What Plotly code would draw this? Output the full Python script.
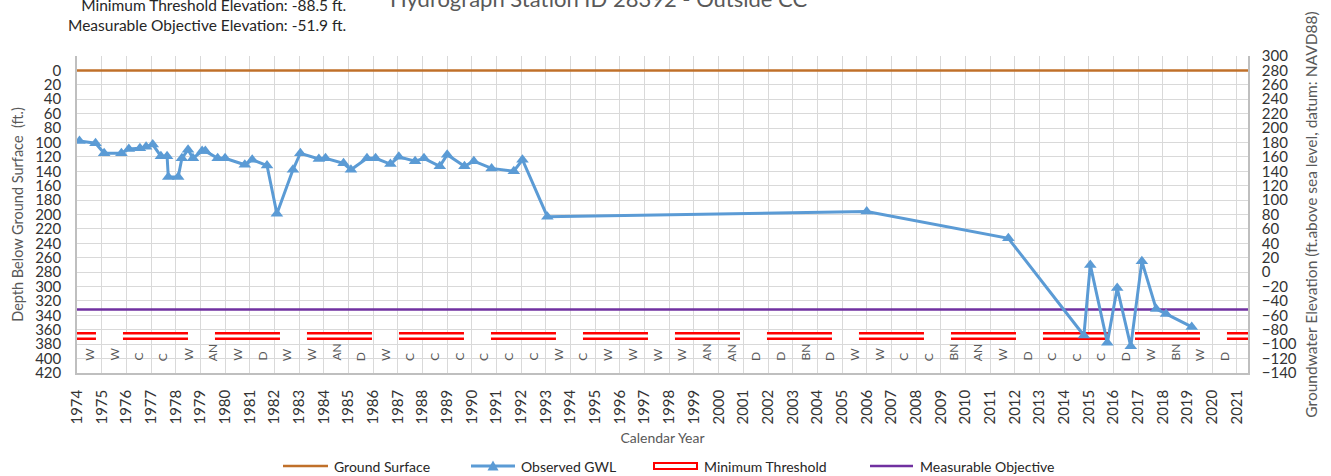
import plotly.graph_objects as go

# ---------------- data ----------------
ground_surface_elev = 280.0          # ft NAVD88
min_threshold_elev = -88.5           # ft NAVD88
measurable_objective_elev = -51.9    # ft NAVD88

years = list(range(1974, 2022))
year_labels = [str(y) for y in years]

water_year_types = ["W", "W", "C", "C", "W", "AN", "W", "D", "W", "W", "AN", "D",
                    "W", "C", "C", "C", "C", "C", "C", "W", "C", "W", "W", "W",
                    "W", "AN", "AN", "D", "D", "BN", "D", "W", "W", "C", "C", "BN",
                    "AN", "W", "D", "C", "C", "C", "D", "W", "BN", "W", "D"]

gwl_date = [1974.1, 1974.75, 1975.1, 1975.8, 1976.1, 1976.55, 1976.8, 1977.07,
            1977.4, 1977.65, 1977.7, 1978.1, 1978.25, 1978.5, 1978.7, 1979.07,
            1979.2, 1979.7, 1980.0, 1980.8, 1981.1, 1981.7, 1982.1, 1982.75,
            1983.05, 1983.8, 1984.07, 1984.8, 1985.1, 1985.75, 1986.1, 1986.7,
            1987.04, 1987.7, 1988.06, 1988.7, 1989.0, 1989.7, 1990.08, 1990.8,
            1991.7, 1992.05, 1993.06, 2006.0, 2011.74, 2014.8, 2015.06, 2015.75,
            2016.15, 2016.7, 2017.15, 2017.73, 2018.13, 2019.17]
gwl_depth = [98, 101, 115, 115, 109, 108, 106, 103, 119, 119, 148, 148, 122, 110,
             122, 112, 112, 122, 122, 131, 124, 132, 199, 138, 115, 123, 122, 129,
             138, 122, 122, 130, 120, 126, 122, 133, 117, 133, 126, 136, 140, 124,
             203, 196, 233, 368, 270, 378, 302, 383, 265, 331, 338, 356]

legend_names = ["Ground Surface", "Observed GWL", "Minimum Threshold",
                "Measurable Objective"]

x_start, x_end = 1974.0, 2021.45
line_start, line_end = 1972.135, 2022.5

depth_ticks = list(range(-20, 421, 20))
elev_ticks = list(range(-140, 301, 20))

# ---------------- figure ----------------
FONT = "Lato"
GRID = "#D9D9D9"
AXIS = "#BFBFBF"
TXT = "#595959"
C_GS = "#C0702A"
C_GWL = "#5B9BD5"
C_MT = "#FF0000"
C_MO = "#7030A0"

W, H = 1331, 476
ML, MR, MT_, MB = 77, 83, 56, 103
PW, PH = W - ML - MR, H - MT_ - MB


def px(xp):
    return (xp - ML) / PW


def py(yp):
    return (H - MB - yp) / PH


fig = go.Figure()

gs_depth = ground_surface_elev - ground_surface_elev
mt_depth = ground_surface_elev - min_threshold_elev
mo_depth = ground_surface_elev - measurable_objective_elev

fig.add_trace(go.Scatter(x=[x_start, x_end], y=[gs_depth, gs_depth], mode="lines",
                         name=legend_names[0], line=dict(color=C_GS, width=2.5),
                         hoverinfo="skip"))
fig.add_trace(go.Scatter(x=[x_start, x_end], y=[mo_depth, mo_depth], mode="lines",
                         name=legend_names[3], line=dict(color=C_MO, width=2.5),
                         hoverinfo="skip"))
fig.add_trace(go.Scatter(x=[line_start, line_end], y=[mt_depth, mt_depth], mode="lines",
                         name=legend_names[2],
                         line=dict(color=C_MT, width=8, dash="65px,27px"),
                         hoverinfo="skip"))
fig.add_trace(go.Scatter(x=[line_start, line_end], y=[mt_depth, mt_depth], mode="lines",
                         line=dict(color="#FFFFFF", width=3, dash="65px,27px"),
                         hoverinfo="skip"))
fig.add_trace(go.Scatter(x=gwl_date, y=gwl_depth, mode="lines+markers",
                         name=legend_names[1], line=dict(color=C_GWL, width=3),
                         marker=dict(symbol="triangle-up", size=11, color=C_GWL)))
# invisible trace to activate the right (elevation) axis
fig.add_trace(go.Scatter(x=[x_start, x_end],
                         y=[ground_surface_elev, ground_surface_elev],
                         yaxis="y2", mode="lines", line=dict(color="rgba(0,0,0,0)"),
                         hoverinfo="skip"))

annotations = []
for yr, wt in zip(years, water_year_types):
    annotations.append(dict(x=yr + 0.5, y=406, xref="x", yref="y", text=wt,
                            textangle=-90, showarrow=False, xanchor="center",
                            yanchor="bottom", font=dict(family=FONT, size=12, color=TXT)))

annotations.append(dict(x=px(598), y=1.133, xref="paper", yref="paper",
                        text="Hydrograph Station ID 28392 - Outside CC",
                        showarrow=False, xanchor="center", yanchor="bottom",
                        font=dict(family=FONT, size=22, color=TXT)))
annotations.append(dict(x=px(348), y=py(15.5), xref="paper", yref="paper",
                        text="Minimum Threshold Elevation: -88.5 ft.<br>"
                             "Measurable Objective Elevation: -51.9 ft.",
                        showarrow=False, xanchor="right", yanchor="middle", align="right",
                        font=dict(family=FONT, size=15.5, color="#262626")))

# ---- legend (drawn below the plot) ----
LEG_Y = 466
shapes = []
leg_items = [  # (symbol x0, symbol x1, text x)
    (283, 328, 332),
    (471, 515, 519),
    (653, 698, 702),
    (870, 913, 918),
]
# Ground Surface
shapes.append(dict(type="line", xref="paper", yref="paper",
                   x0=px(leg_items[0][0]), x1=px(leg_items[0][1]),
                   y0=py(LEG_Y), y1=py(LEG_Y), line=dict(color=C_GS, width=2.5)))
# Observed GWL
shapes.append(dict(type="line", xref="paper", yref="paper",
                   x0=px(leg_items[1][0]), x1=px(leg_items[1][1]),
                   y0=py(LEG_Y), y1=py(LEG_Y), line=dict(color=C_GWL, width=3)))
cx = (leg_items[1][0] + leg_items[1][1]) / 2
tri = "M {:.5f} {:.5f} L {:.5f} {:.5f} L {:.5f} {:.5f} Z".format(
    px(cx - 5.5), py(LEG_Y + 4.5), px(cx + 5.5), py(LEG_Y + 4.5), px(cx), py(LEG_Y - 5.5))
shapes.append(dict(type="path", xref="paper", yref="paper", path=tri,
                   fillcolor=C_GWL, line=dict(color=C_GWL, width=0)))
# Minimum Threshold (red outlined bar)
shapes.append(dict(type="rect", xref="paper", yref="paper",
                   x0=px(leg_items[2][0] + 1), x1=px(leg_items[2][1] - 1),
                   y0=py(LEG_Y - 3), y1=py(LEG_Y + 3),
                   fillcolor="white", line=dict(color=C_MT, width=2)))
# Measurable Objective
shapes.append(dict(type="line", xref="paper", yref="paper",
                   x0=px(leg_items[3][0]), x1=px(leg_items[3][1]),
                   y0=py(LEG_Y), y1=py(LEG_Y), line=dict(color=C_MO, width=2.5)))
for (s0, s1, tx), name in zip(leg_items, legend_names):
    annotations.append(dict(x=px(tx), y=py(LEG_Y), xref="paper", yref="paper",
                            text=name, showarrow=False, xanchor="left", yanchor="middle",
                            font=dict(family=FONT, size=14, color="#262626")))

fig.update_layout(
    width=W, height=H,
    margin=dict(l=ML, r=MR, t=MT_, b=MB, autoexpand=False),
    paper_bgcolor="white", plot_bgcolor="white",
    font=dict(family=FONT, color="#333333"),
    showlegend=False,
    xaxis=dict(range=[x_start, x_end], tickmode="array", tickvals=years,
               ticktext=year_labels, tickangle=-90, showgrid=True, gridcolor=GRID,
               gridwidth=1, showline=True, linecolor=AXIS, linewidth=1.5,
               ticks="", zeroline=False, automargin=False, ticklabelstandoff=9,
               tickfont=dict(family=FONT, size=15, color="#333333"),
               title=dict(text="Calendar Year", standoff=10,
                          font=dict(family=FONT, size=14, color=TXT))),
    yaxis=dict(range=[420, -20], tickmode="array", tickvals=depth_ticks,
               ticktext=["" if v < 0 else str(v) for v in depth_ticks],
               showgrid=True, gridcolor=GRID, gridwidth=1, showline=True,
               linecolor=AXIS, linewidth=1.5, ticks="", zeroline=False, automargin=False,
               ticklabelstandoff=11,
               tickfont=dict(family=FONT, size=15, color="#333333"),
               title=dict(text="Depth Below Ground Surface  (ft.)", standoff=8,
                          font=dict(family=FONT, size=14.5, color=TXT))),
    yaxis2=dict(range=[-140, 300], overlaying="y", side="right", tickmode="array",
                tickvals=elev_ticks, showgrid=False, showline=True, linecolor=AXIS,
                linewidth=1.5, ticks="", zeroline=False, automargin=False,
                ticklabelstandoff=9,
                tickfont=dict(family=FONT, size=15, color="#333333"),
                title=dict(text="Groundwater Elevation (ft.above sea level, datum: NAVD88)",
                           standoff=10, font=dict(family=FONT, size=15.5, color=TXT))),
    annotations=annotations,
    shapes=shapes,
)

fig.write_html("out.html", config={"displayModeBar": False},
               post_script="document.body.style.margin='0px';")
